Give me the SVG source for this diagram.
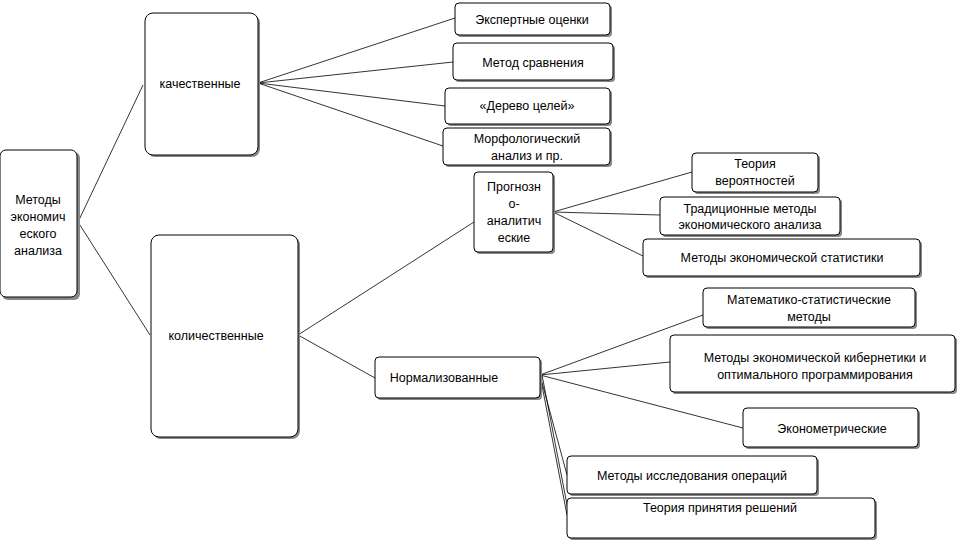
<svg xmlns="http://www.w3.org/2000/svg" width="960" height="540" viewBox="0 0 960 540">
<style>
.b{fill:#fff;stroke:#000;stroke-width:1}
.s{fill:#888}
text{font-family:"Liberation Sans",Arial,sans-serif;font-size:12.5px;fill:#000;text-anchor:middle}
#c line{stroke:#000;stroke-width:0.8}
</style>
<rect width="960" height="540" fill="#fff"/>
<g id="c">
<line x1="78" y1="222" x2="143" y2="85"/><line x1="78" y1="222" x2="150" y2="335"/>
<line x1="258" y1="83" x2="455" y2="18"/><line x1="258" y1="83" x2="453" y2="62"/><line x1="258" y1="83" x2="445" y2="106"/><line x1="258" y1="83" x2="443" y2="146"/>
<line x1="298" y1="335" x2="474" y2="222"/><line x1="298" y1="335" x2="375" y2="378"/>
<line x1="553" y1="212" x2="692" y2="172"/><line x1="553" y1="212" x2="660" y2="215"/><line x1="553" y1="212" x2="643" y2="256"/>
<line x1="540" y1="375" x2="703" y2="315"/><line x1="540" y1="375" x2="670" y2="362"/><line x1="540" y1="375" x2="743" y2="428"/><line x1="540" y1="375" x2="567" y2="475"/><line x1="540" y1="375" x2="567" y2="515"/><line x1="542" y1="375" x2="569" y2="515"/>
</g>
<g id="n0"><rect class="s" x="2" y="152" width="78" height="148" rx="6"/><rect class="b" x="0" y="150" width="77" height="147" rx="6"/><text x="38" y="204">Методы</text><text x="38" y="221">экономич</text><text x="38" y="238">еского</text><text x="38" y="255">анализа</text></g>
<g id="n1"><rect class="s" x="147" y="15" width="113" height="142" rx="8"/><rect class="b" x="145" y="13" width="113" height="142" rx="8"/><text x="200" y="88">качественные</text></g>
<g id="n2"><rect class="s" x="153" y="237" width="147" height="202" rx="8"/><rect class="b" x="151" y="235" width="147" height="202" rx="8"/><text x="216" y="340">количественные</text></g>
<g id="n3"><rect class="s" x="457" y="5" width="155" height="32" rx="4"/><rect class="b" x="455" y="3" width="155" height="32" rx="4"/><text x="532" y="24">Экспертные оценки</text></g>
<g id="n4"><rect class="s" x="455" y="45" width="160" height="37" rx="4"/><rect class="b" x="453" y="43" width="160" height="37" rx="4"/><text x="533" y="67">Метод сравнения</text></g>
<g id="n5"><rect class="s" x="447" y="90" width="165" height="36" rx="4"/><rect class="b" x="445" y="88" width="165" height="36" rx="4"/><text x="527" y="110">«Дерево целей»</text></g>
<g id="n6"><rect class="s" x="445" y="130" width="167" height="37" rx="4"/><rect class="b" x="443" y="128" width="167" height="37" rx="4"/><text x="527" y="143">Морфологический</text><text x="527" y="160">анализ и пр.</text></g>
<g id="n7"><rect class="s" x="476" y="174" width="79" height="80" rx="4"/><rect class="b" x="474" y="172" width="79" height="80" rx="4"/><text x="514" y="191">Прогнозн</text><text x="514" y="208">о-</text><text x="514" y="225">аналитич</text><text x="514" y="242">еские</text></g>
<g id="n8"><rect class="s" x="694" y="155" width="126" height="39" rx="4"/><rect class="b" x="692" y="153" width="126" height="39" rx="4"/><text x="755" y="168">Теория</text><text x="755" y="185">вероятностей</text></g>
<g id="n9"><rect class="s" x="662" y="199" width="180" height="38" rx="4"/><rect class="b" x="660" y="197" width="180" height="38" rx="4"/><text x="750" y="213">Традиционные методы</text><text x="750" y="229">экономического анализа</text></g>
<g id="n10"><rect class="s" x="645" y="241" width="277" height="37" rx="4"/><rect class="b" x="643" y="239" width="277" height="37" rx="4"/><text x="782" y="262">Методы экономической статистики</text></g>
<g id="n11"><rect class="s" x="705" y="290" width="212" height="39" rx="4"/><rect class="b" x="703" y="288" width="212" height="39" rx="4"/><text x="809" y="304">Математико-статистические</text><text x="809" y="321">методы</text></g>
<g id="n12"><rect class="s" x="672" y="337" width="285" height="57" rx="4"/><rect class="b" x="670" y="335" width="285" height="57" rx="4"/><text x="815" y="362">Методы экономической кибернетики и</text><text x="815" y="379">оптимального программирования</text></g>
<g id="n13"><rect class="s" x="377" y="359" width="165" height="41" rx="4"/><rect class="b" x="375" y="357" width="165" height="41" rx="4"/><text x="444" y="382">Нормализованные</text></g>
<g id="n14"><rect class="s" x="745" y="410" width="175" height="39" rx="4"/><rect class="b" x="743" y="408" width="175" height="39" rx="4"/><text x="832" y="433">Эконометрические</text></g>
<g id="n15"><rect class="s" x="569" y="458" width="250" height="38" rx="4"/><rect class="b" x="567" y="456" width="250" height="38" rx="4"/><text x="692" y="480">Методы исследования операций</text></g>
<g id="n16"><rect class="s" x="569" y="500" width="308" height="40" rx="4"/><rect class="b" x="567" y="498" width="308" height="40" rx="4"/><text x="720" y="512">Теория принятия решений</text></g>
</svg>
